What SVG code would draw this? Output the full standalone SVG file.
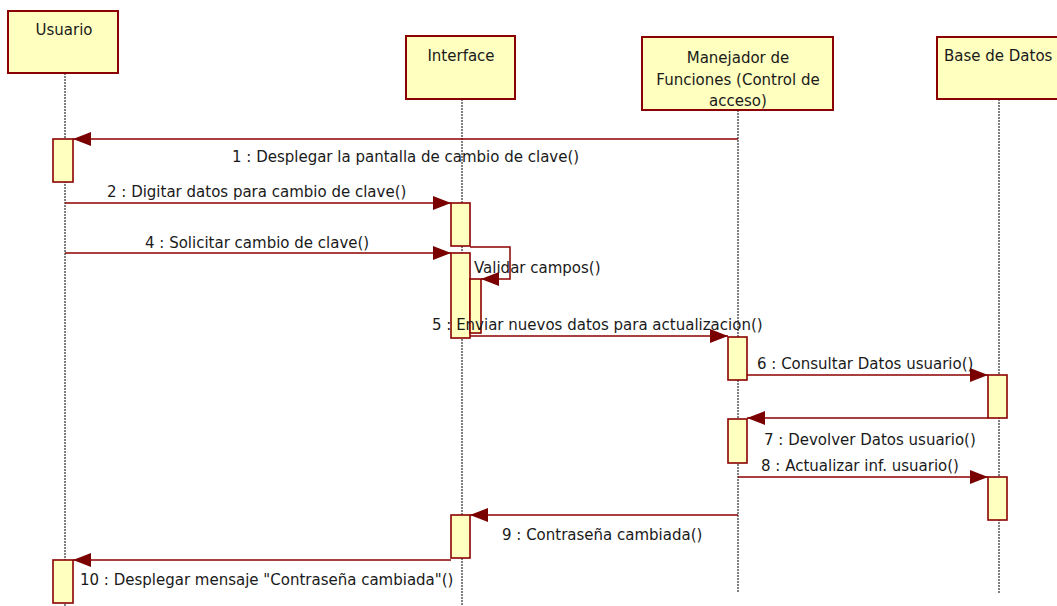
<svg xmlns="http://www.w3.org/2000/svg" width="1057" height="606" viewBox="0 0 1057 606">
<defs>
<style>
.box{fill:#FFFFC0;stroke:#8B0000;stroke-width:2}
.act{fill:#FFFFC0;stroke:#8B0000;stroke-width:1.6}
.life{stroke:#000;stroke-width:1;stroke-dasharray:2 1;fill:none}
.msg{stroke:#8B0000;stroke-width:1.5;fill:none;marker-end:url(#ah)}
text{font-family:"DejaVu Sans",Verdana,sans-serif;font-size:15px;fill:#1a1a1a}
.c{text-anchor:middle}
</style>
<marker id="ah" markerUnits="userSpaceOnUse" markerWidth="19" markerHeight="14" refX="18" refY="7" orient="auto">
<path d="M0,0 L18,7 L0,14 z" fill="#7A0000"/>
</marker>
</defs>
<g id="lifelines">
<line class="life" x1="65" y1="73" x2="65" y2="606"/>
<line class="life" x1="462" y1="99" x2="462" y2="606"/>
<line class="life" x1="738" y1="110" x2="738" y2="593"/>
<line class="life" x1="999" y1="99" x2="999" y2="593"/>
</g>
<g id="usuario">
<rect class="box" x="8" y="11" width="110" height="62"/>
<text class="c" x="64" y="35">Usuario</text>
</g>
<g id="interface">
<rect class="box" x="406" y="36" width="109" height="63"/>
<text class="c" x="461" y="61">Interface</text>
</g>
<g id="manejador">
<rect class="box" x="642" y="37" width="191" height="73"/>
<text class="c" x="738" y="63">Manejador de</text>
<text class="c" x="738" y="85">Funciones (Control de</text>
<text class="c" x="738" y="106">acceso)</text>
</g>
<g id="basedatos">
<rect class="box" x="937" y="37" width="130" height="62"/>
<text x="944" y="61">Base de Datos</text>
</g>
<g id="activations">
<rect class="act" x="53" y="139" width="20" height="43"/>
<rect class="act" x="451" y="203" width="19" height="43"/>
<rect class="act" x="451" y="253" width="19" height="85"/>
<rect class="act" x="470" y="279" width="11" height="54"/>
<rect class="act" x="728" y="337" width="19" height="43"/>
<rect class="act" x="988" y="375" width="19" height="43"/>
<rect class="act" x="728" y="419" width="19" height="44"/>
<rect class="act" x="988" y="477" width="19" height="43"/>
<rect class="act" x="451" y="515" width="19" height="43"/>
<rect class="act" x="53" y="560" width="20" height="43"/>
</g>
<g id="connectors">
<line class="msg" x1="738" y1="139" x2="73" y2="139"/>
<line class="msg" x1="65" y1="203" x2="451" y2="203"/>
<line class="msg" x1="65" y1="253" x2="451" y2="253"/>
<polyline class="msg" points="470,247 510,247 510,279 481,279"/>
<line class="msg" x1="470" y1="336" x2="728" y2="336"/>
<line class="msg" x1="747" y1="375" x2="988" y2="375"/>
<line class="msg" x1="988" y1="418" x2="747" y2="418"/>
<line class="msg" x1="738" y1="477" x2="988" y2="477"/>
<line class="msg" x1="738" y1="515" x2="470" y2="515"/>
<line class="msg" x1="451" y1="560" x2="73" y2="560"/>
</g>
<g id="labels">
<text x="232" y="162">1 : Desplegar la pantalla de cambio de clave()</text>
<text x="107" y="197">2 : Digitar datos para cambio de clave()</text>
<text x="145" y="248">4 : Solicitar cambio de clave()</text>
<text x="474" y="273">Validar campos()</text>
<text x="432" y="330">5 : Enviar nuevos datos para actualizacion()</text>
<text x="757" y="369">6 : Consultar Datos usuario()</text>
<text x="764" y="445">7 : Devolver Datos usuario()</text>
<text x="761" y="471">8 : Actualizar inf. usuario()</text>
<text x="502" y="540">9 : Contraseña cambiada()</text>
<text x="80" y="585">10 : Desplegar mensaje "Contraseña cambiada"()</text>
</g>
</svg>
